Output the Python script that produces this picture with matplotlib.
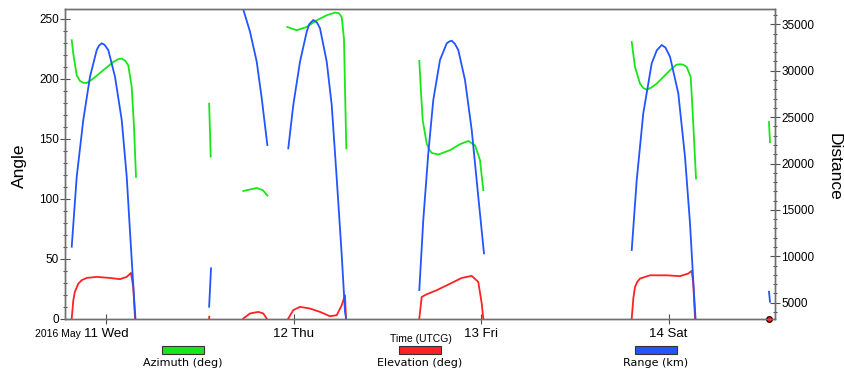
import numpy as np
import matplotlib
matplotlib.use("Agg")
import matplotlib.pyplot as plt
from matplotlib.patches import Rectangle
from matplotlib.ticker import MultipleLocator

nan = np.nan

# hours since 2016 May 11 00:00 UTCG, passes separated by nan
az_hours = [-4.39, -4.19, -3.75, -3.33, -2.9, -2.47, -1.63, -0.35, 0.93, 1.5, 2.01, 2.45, 2.85, 3.29, 3.58, 3.84, nan,
            13.2, 13.4, nan,
            17.57, 19.29, 20.06, 20.65, nan,
            23.2, 24.41, 25.69, 26.97, 28.25, 29.31, 29.8, 30.17, 30.46, 30.59, 30.76, nan,
            40.1, 40.28, 40.54, 41.05, 41.35, 41.69, 42.53, 44.03, 45.31, 46.37, 47.23, 47.87, 48.29, nan,
            67.29, 67.71, 68.35, 68.8, 69.21, 69.8, 70.49, 72.19, 73.0, 73.47, 73.9, 74.33, 74.84, 75.1, 75.52, nan,
            84.86, 84.99]
az_deg = [232, 220.8, 202.7, 198, 196.5, 196.3, 200, 207, 213.8, 216, 216.7, 215, 211, 193, 160, 118, nan,
          179, 135, nan,
          106.3, 108.8, 107, 102.5, nan,
          243, 240.3, 243, 248.6, 252.8, 255, 254.5, 251.3, 233, 191.7, 141.7, nan,
          214.7, 193, 165, 145.8, 141, 138, 136.7, 140.3, 145.3, 148, 144.4, 132, 107, nan,
          230.5, 209.7, 195.8, 192, 190.8, 192.5, 195.8, 207, 211.5, 212, 211.5, 209.7, 201.3, 170.8, 116.7, nan,
          163.8, 147]

el_hours = [-4.39, -4.19, -4.0, -3.55, -3.1, -2.47, -1.19, 0.51, 1.79, 2.65, 3.2, 3.49, 3.71, nan,
            13.2, 13.22, nan,
            17.57, 18.43, 19.5, 20.13, 20.57, nan,
            23.33, 23.97, 24.83, 26.11, 27.39, 28.67, 29.53, 30.17, 30.59, 30.72, nan,
            40.1, 40.41, 41.05, 42.33, 44.03, 45.53, 46.81, 47.65, 48.09, 48.29, nan,
            67.29, 67.5, 67.71, 68.0, 68.35, 69.63, 71.77, 73.47, 74.53, 74.97, 75.17, 75.39]
el_deg = [0, 15, 22, 29, 32, 33.8, 34.7, 33.8, 32.8, 34.7, 38, 26, 0, nan,
          0, 1.5, nan,
          0, 4.2, 5.5, 4.2, 0, nan,
          0, 7, 9.7, 8.3, 5.5, 1.9, 2.75, 11, 19.4, 0, nan,
          0, 18, 20.2, 23.6, 29, 33.8, 35.5, 30.5, 12.5, 0, nan,
          0, 17, 26.3, 30.5, 33.3, 36, 36, 35.3, 37.5, 39.7, 29, 0]

rng_hours = [-4.39, -3.75, -2.91, -2.05, -1.19, -0.9, -0.55, -0.2, 0.29, 1.15, 2.01, 2.65, 3.16, 3.58, 3.77, nan,
             13.2, 13.44, nan,
             17.57, 18.43, 19.29, 19.93, 20.65, nan,
             23.33, 23.97, 24.83, 25.69, 26.0, 26.53, 27.0, 27.39, 28.25, 28.89, 29.53, 30.17, 30.59, 30.72, nan,
             40.1, 40.61, 41.25, 41.89, 42.75, 43.61, 43.95, 44.25, 44.65, 45.09, 45.95, 46.81, 47.65, 48.38, nan,
             67.29, 67.93, 68.77, 69.85, 70.5, 71.13, 71.6, 72.19, 73.25, 74.11, 74.75, 75.26, 75.46, nan,
             84.86, 84.99]
rng_km = [11034, 18578, 24688, 29353, 32231, 32700, 32953, 32800, 32231, 29353, 24688, 18578, 11400, 5647, 3300, nan,
          4569, 8707, nan,
          36600, 34203, 30970, 27026, 21994, nan,
          21638, 26304, 30970, 34203, 35000, 35463, 35200, 34569, 30970, 26304, 18405, 10140, 4030, 3350, nan,
          6369, 13912, 21099, 26843, 31154, 32953, 33150, 33233, 32900, 32231, 28998, 23610, 16422, 10323, nan,
          10679, 18222, 25409, 30797, 32200, 32769, 32500, 31509, 27565, 20733, 13556, 6013, 3300, nan,
          6185, 5108]

day_ticks = [0, 24, 48, 72]
day_labels = ["11 Wed", "12 Thu", "13 Fri", "14 Sat"]
legend_names = ["Azimuth (deg)", "Elevation (deg)", "Range (km)"]

c_az, c_el, c_rng = "#19e619", "#ff2222", "#2255ff"

fig = plt.figure(figsize=(8.45, 3.72), dpi=100)
ax = fig.add_axes([65 / 845, 1 - 318.5 / 372, 710 / 845, 309.5 / 372])
ax2 = ax.twinx()

ax.plot(az_hours, az_deg, color=c_az, lw=1.3)
ax.plot(el_hours, el_deg, color=c_el, lw=1.3)
ax2.plot(rng_hours, rng_km, color=c_rng, lw=1.3)
ax.plot([84.86], [0], "o", color=c_el, mec="#400000", ms=4, clip_on=False, zorder=5)

ax.set_xlim(-5.25, 85.63)
ax.set_ylim(0, 258)
ax2.set_ylim(3300, 36650)

ax.set_xticks(day_ticks)
ax.set_xticklabels(day_labels, fontsize=9.5, family="Liberation Sans")
ax.yaxis.set_major_locator(MultipleLocator(50))
ax.yaxis.set_minor_locator(MultipleLocator(10))
ax2.yaxis.set_major_locator(MultipleLocator(5000))
ax2.yaxis.set_minor_locator(MultipleLocator(1000))

for a in (ax, ax2):
    for s in a.spines.values():
        s.set_color("#707070")
        s.set_linewidth(1.0)
    a.tick_params(which="major", direction="inout", length=7, width=0.8, color="#505050")
    a.tick_params(which="minor", direction="inout", length=3.5, width=0.8, color="#505050")
ax.tick_params(axis="x", pad=3)
ax.tick_params(axis="y", pad=1, labelsize=8.5)
ax2.tick_params(axis="y", pad=1, labelsize=8.5)
for lab in ax.get_yticklabels() + ax2.get_yticklabels():
    lab.set_family("Liberation Sans")

fig.text(19 / 845, 1 - 166 / 372, "Angle", rotation=90, ha="center", va="center",
         fontsize=12.5, family="Liberation Sans")
fig.text(834 / 845, 1 - 167 / 372, "Distance", rotation=270, ha="center", va="center",
         fontsize=12.5, family="Liberation Sans")
fig.text(81 / 845, 1 - 334 / 372, "2016 May", ha="right", va="center",
         fontsize=7.5, family="Liberation Sans")
fig.text(421 / 845, 1 - 339 / 372, "Time (UTCG)", ha="center", va="center",
         fontsize=7.5, family="Liberation Sans")

# legend boxes under the plot
for x0, name, col in zip([162, 399, 635], legend_names, [c_az, c_el, c_rng]):
    fig.add_artist(Rectangle((x0 / 845, 1 - 354 / 372), 42 / 845, 8 / 372,
                             transform=fig.transFigure, facecolor=col,
                             edgecolor="#333333", lw=0.8))
    fig.text((x0 + 21) / 845, 1 - 363 / 372, name, ha="center", va="center",
             fontsize=8, family="DejaVu Sans")

fig.savefig("out.png", dpi=100)
